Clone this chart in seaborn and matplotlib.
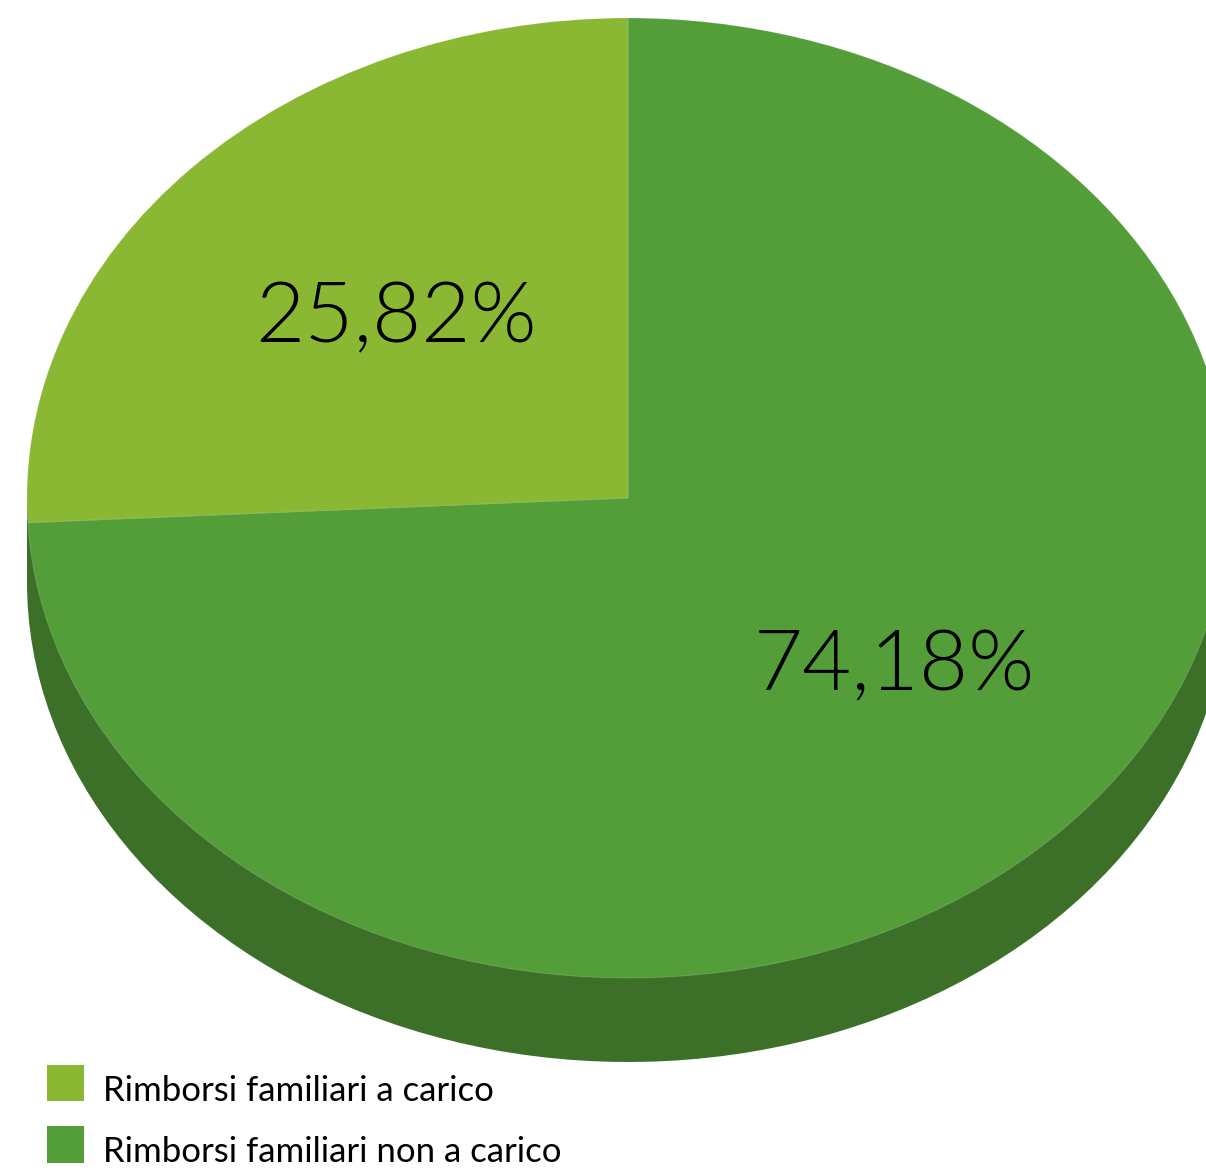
import matplotlib
matplotlib.use("Agg")
import matplotlib.pyplot as plt
from matplotlib import font_manager as fm
from matplotlib.patches import Patch
import seaborn as sns

categories = ["Rimborsi familiari a carico", "Rimborsi familiari non a carico"]
shares = [25.82, 74.18]
share_labels = ["25,82%", "74,18%"]

W, H = 1206, 1168
CX, CY = 628, 498      # centre of the disc, px
RX, RY = 601, 480      # disc semi-axes, px
DEPTH = 84             # thickness of the disc's rim, px

sns.set_theme(style="white")
plt.rcParams["font.family"] = ["Lato", "DejaVu Sans"]
palette = sns.color_palette(["#8AB833", "#549E39"])
rim_colour = "#3C7029"

# Value labels use the light cut of the font when it is installed
light_files = [f for f in fm.findSystemFonts() if f.endswith("Lato-Light.ttf")]
value_font = (fm.FontProperties(fname=light_files[0], size=61) if light_files
              else fm.FontProperties(family="Lato", size=61))

fig = plt.figure(figsize=(W / 100, H / 100), dpi=100)
ax = fig.add_axes([0, 0, 1, 1])

# Rim: the same disc shifted down, joined to the top face by a band
drop = DEPTH / RY
ax.pie(shares, colors=[rim_colour, rim_colour], center=(0, -drop), radius=1,
       startangle=90, counterclock=False, wedgeprops={"linewidth": 0})
ax.fill_between([-1, 1], -drop, 0, color=rim_colour, linewidth=0)

# Top face, clockwise from twelve o'clock, largest share first
ax.pie(shares[::-1], colors=list(palette)[::-1], radius=1, startangle=90,
       counterclock=False,
       wedgeprops={"linewidth": 0.6, "edgecolor": (1, 1, 1, 0.2)})

ax.set_aspect("auto")
ax.set_xlim(-CX / RX, (W - CX) / RX)
ax.set_ylim((CY - H) / RY, CY / RY)
ax.axis("off")

# Value labels, placed in figure pixels
for text, (px, py) in zip(share_labels, [(396, 312), (894, 660)]):
    ax.text(px / W, 1 - (py + 7) / H, text, transform=ax.transAxes, ha="center",
            va="center", color="black", fontproperties=value_font)

handles = [Patch(facecolor=c, edgecolor="none") for c in palette]
fs = 25
em = fs * 100 / 72
legend = ax.legend(handles, categories, loc="upper left",
                   bbox_to_anchor=(47 / W, 1 - 1065 / H),
                   bbox_transform=ax.transAxes, frameon=False, fontsize=fs,
                   borderpad=0, borderaxespad=0, handlelength=37 / em,
                   handleheight=43 / em, handletextpad=19 / em,
                   labelspacing=25 / em, labelcolor="black")
# Drop the legend text so its baseline sits on the swatch's lower edge
for label in legend.get_texts():
    label.set_y(-6)

fig.savefig("out.png", dpi=100)
